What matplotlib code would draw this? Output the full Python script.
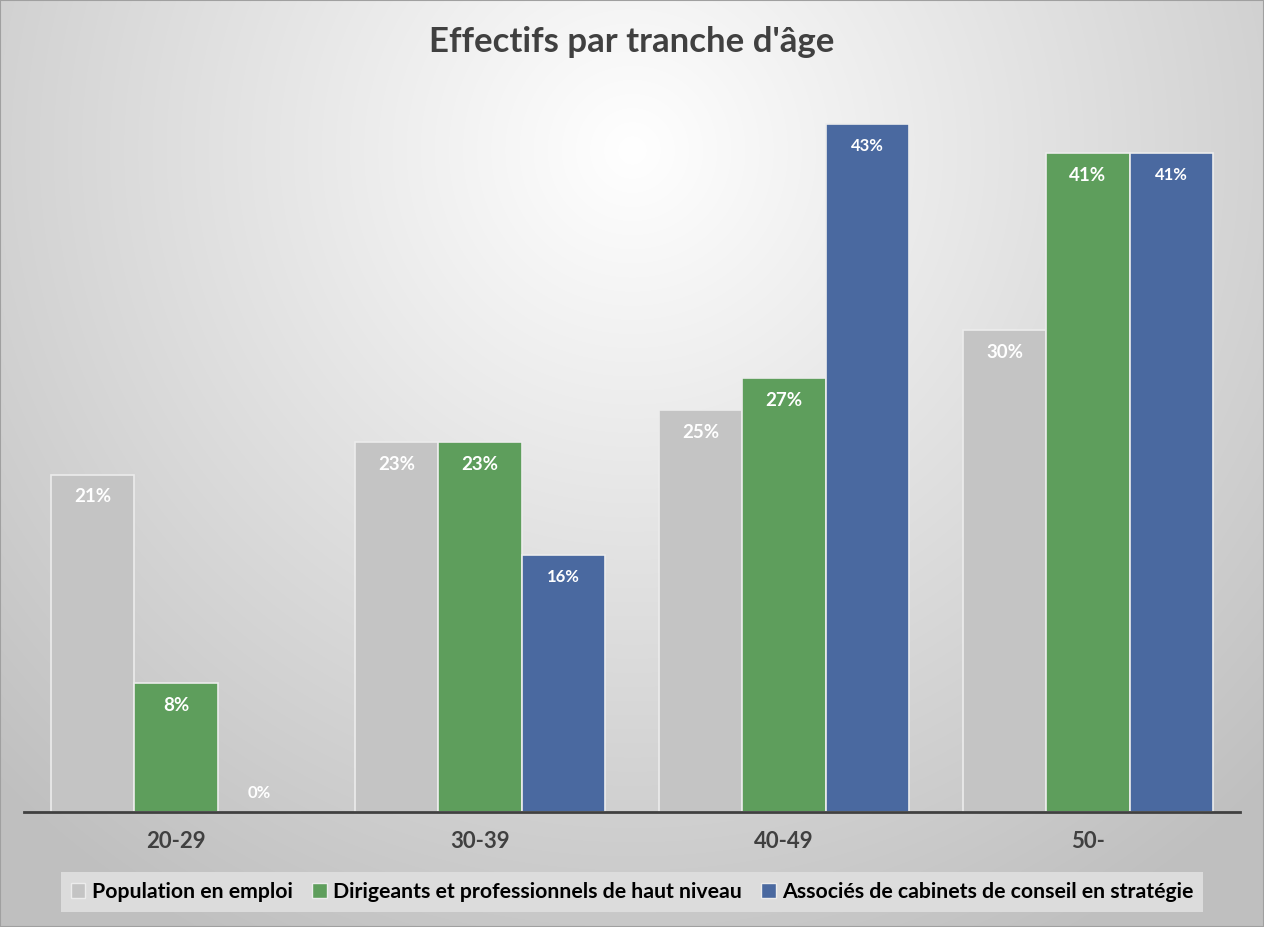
import numpy as np
import matplotlib
matplotlib.use('Agg')
from matplotlib import pyplot as plt
from matplotlib.patches import Patch

plt.rcParams['font.family'] = ['Lato', 'DejaVu Sans']

categories = ['20-29', '30-39', '40-49', '50-']
population = [21, 23, 25, 30]
dirigeants = [8, 23, 27, 41]
associes = [0, 16, 42.8, 41]
series_names = ['Population en emploi',
                'Dirigeants et professionnels de haut niveau',
                'Associés de cabinets de conseil en stratégie']
colors = ['#c4c4c4', '#5e9e5c', '#4a69a0']
label_sizes = [13.5, 13.5, 12]

fig = plt.figure(figsize=(12.64, 9.27), dpi=100)

# fond en dégradé radial
bg = fig.add_axes([0, 0, 1, 1], zorder=-10)
yy, xx = np.mgrid[0:927, 0:1264]
d = np.sqrt(((xx - 632) / 900.0) ** 2 + ((yy - 150) / 900.0) ** 2)
d = np.clip(d, 0, 1)
shade = 1.0 - 0.25 * d
img = np.dstack([shade, shade, shade])
bg.imshow(img, aspect='auto', extent=[0, 1, 0, 1], origin='upper')
bg.plot([0, 1, 1, 0, 0], [0, 0, 1, 1, 0], color='#a0a0a0', lw=1.5)
bg.set_xlim(0, 1)
bg.set_ylim(0, 1)
bg.set_axis_off()

ax = fig.add_axes([24 / 1264, 1 - 812 / 927, 1216 / 1264, 714 / 927])
ax.patch.set_alpha(0)

x = np.arange(len(categories))
w = 0.274
all_series = [population, dirigeants, associes]
for i, vals in enumerate(all_series):
    pos = x + (i - 1) * w
    ax.bar(pos, vals, width=w, color=colors[i], edgecolor='#ececec', linewidth=1.2)
    for p, v in zip(pos, vals):
        if v > 0:
            ax.annotate(f'{round(v)}%', (p, v), xytext=(0, -10), textcoords='offset points',
                        ha='center', va='top', color='white',
                        fontsize=label_sizes[i], fontweight='bold')
        else:
            ax.annotate(f'{round(v)}%', (p, v), xytext=(0, 14), textcoords='offset points',
                        ha='center', va='center', color='white', fontsize=12, fontweight='bold')

ax.set_xlim(-0.5, len(categories) - 0.5)
ax.set_ylim(0, 44.43)
ax.set_yticks([])
ax.set_xticks(x)
ax.set_xticklabels(categories, fontsize=16, fontweight='bold', color='#404040')
ax.tick_params(axis='x', length=0, pad=14)
for s in ['top', 'right', 'left']:
    ax.spines[s].set_visible(False)
ax.spines['bottom'].set_color('#404040')
ax.spines['bottom'].set_linewidth(2)

fig.text(0.5, 1 - 42 / 927, "Effectifs par tranche d'âge", ha='center', va='center',
         fontsize=25, fontweight='bold', color='#404040')

handles = [Patch(facecolor=c, edgecolor='#ececec') for c in colors]
leg = fig.legend(handles, series_names, loc='center', bbox_to_anchor=(0.5, 1 - 892 / 927),
                 ncol=3, frameon=True, fancybox=False, handlelength=0.7, handleheight=0.7,
                 handletextpad=0.3, columnspacing=0.9, borderpad=0.45,
                 prop={'size': 15.3, 'weight': 'bold'})
leg.get_frame().set_facecolor('#dcdcdc')
leg.get_frame().set_edgecolor('none')
leg.get_frame().set_alpha(1)

fig.savefig('out.png', dpi=100)
